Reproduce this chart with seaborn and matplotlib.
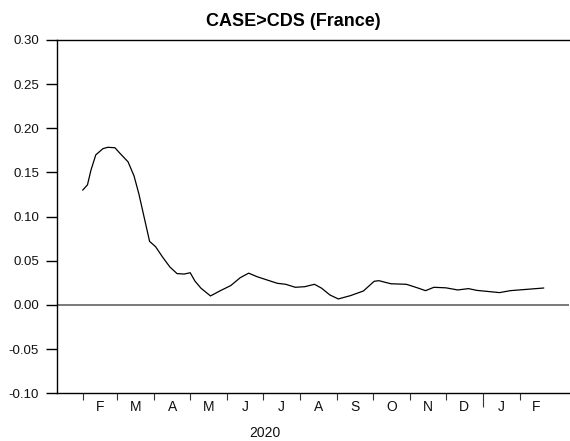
import matplotlib
matplotlib.use("Agg")
import matplotlib.pyplot as plt
import matplotlib.dates as mdates
import matplotlib.ticker as mticker
import numpy as np
import pandas as pd
import seaborn as sns

# Series: CASE>CDS (France), 2020 - early 2021
dates = [
    "2020-02-01", "2020-02-05", "2020-02-08", "2020-02-12", "2020-02-18",
    "2020-02-22", "2020-02-28", "2020-03-03", "2020-03-10", "2020-03-15",
    "2020-03-19", "2020-03-24", "2020-03-28", "2020-04-02", "2020-04-08",
    "2020-04-14", "2020-04-20", "2020-04-26", "2020-05-01", "2020-05-05",
    "2020-05-10", "2020-05-18", "2020-05-26", "2020-06-04", "2020-06-12",
    "2020-06-19", "2020-06-26", "2020-07-05", "2020-07-13", "2020-07-20",
    "2020-07-28", "2020-08-05", "2020-08-13", "2020-08-19", "2020-08-26",
    "2020-09-02", "2020-09-12", "2020-09-23", "2020-10-02", "2020-10-06",
    "2020-10-16", "2020-10-29", "2020-11-07", "2020-11-14", "2020-11-21",
    "2020-12-01", "2020-12-11", "2020-12-20", "2020-12-27", "2021-01-15",
    "2021-01-24", "2021-02-21",
]
values = [
    0.130, 0.136, 0.153, 0.170, 0.177,
    0.1785, 0.178, 0.172, 0.162, 0.146,
    0.126, 0.096, 0.0720, 0.0660, 0.0540,
    0.0430, 0.0355, 0.0350, 0.0365, 0.0270,
    0.0190, 0.0102, 0.0160, 0.0220, 0.0310,
    0.0360, 0.0320, 0.0280, 0.0245, 0.0234,
    0.0200, 0.0207, 0.0234, 0.0190, 0.0113,
    0.0068, 0.0105, 0.0158, 0.0268, 0.0275,
    0.0240, 0.0234, 0.0195, 0.0162, 0.0200,
    0.0194, 0.0170, 0.0185, 0.0165, 0.0140,
    0.0162, 0.0192,
]

month_labels = ["F", "M", "A", "M", "J", "J", "A", "S", "O", "N", "D", "J", "F"]
month_starts = pd.date_range("2020-02-01", "2021-02-01", freq="MS")
y_ticks = [-0.10, -0.05, 0.00, 0.05, 0.10, 0.15, 0.20, 0.25, 0.30]

sns.set_style("ticks")
plt.rcParams["font.family"] = ["Liberation Sans", "DejaVu Sans"]
plt.rcParams["text.color"] = "black"
plt.rcParams["xtick.color"] = "black"
plt.rcParams["ytick.color"] = "black"
plt.rcParams["xtick.labelcolor"] = "black"
plt.rcParams["ytick.labelcolor"] = "black"

df = pd.DataFrame({"date": pd.to_datetime(dates), "value": values})

fig = plt.figure(figsize=(5.70, 4.41), dpi=100)
ax = fig.add_axes([0.1, 0.1082, 0.898, 0.8011])

ax.axhline(0.0, color="#6e6e6e", lw=1.3, zorder=1)
sns.lineplot(data=df, x="date", y="value", ax=ax, color="black", lw=0.9, zorder=3)

ax.set_xlim(pd.Timestamp("2020-01-10 12:00"), pd.Timestamp("2021-03-14"))
ax.set_ylim(-0.10, 0.30)

# month boundaries as unlabeled ticks, labels centred mid-month
ax.set_xticks(month_starts)
ax.set_xticklabels([""] * len(month_starts))
mids = [s + (s + pd.offsets.MonthBegin(1) - s) / 2 for s in month_starts]
ax.set_xticks(mids, minor=True)
ax.set_xticklabels(month_labels, minor=True)
ax.tick_params(axis="x", which="major", direction="out", length=5, width=0.8, color="#333333")
ax.tick_params(axis="x", which="minor", length=0, labelsize=10, pad=5, labelcolor="#111111")

# the year boundary gets a longer tick
for t in ax.xaxis.get_major_ticks():
    if t.get_loc() == mdates.date2num(pd.Timestamp("2021-01-01")):
        t.tick1line.set_markersize(10)

ax.set_yticks(y_ticks)
ax.yaxis.set_major_formatter(mticker.FormatStrFormatter("%.2f"))
ax.tick_params(axis="y", direction="out", length=8, width=1.0, labelsize=9.5, pad=5,
               labelcolor="#111111")

ax.set_xlabel("")
ax.set_ylabel("")
for side in ("left", "top", "bottom"):
    ax.spines[side].set_linewidth(1.0)
    ax.spines[side].set_color("black")
ax.spines["right"].set_visible(False)

fig.text(293 / 570, 1 - 22 / 441, "CASE>CDS (France)", ha="center", va="center",
         fontsize=13, fontweight="bold", color="black")
fig.text(265 / 570, 1 - 433 / 441, "2020", ha="center", va="center", fontsize=10,
         color="#111111")

fig.savefig("out.png", dpi=100)
